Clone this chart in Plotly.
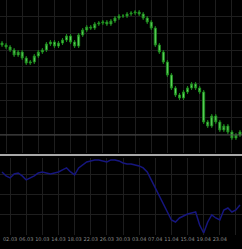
import plotly.graph_objects as go
from plotly.subplots import make_subplots

bars = list(range(60))
opens = [157,155,153,150,145,148,142,137,138,144,148,150,156,158,154,157,160,164,158,154,
         165,170,173,172,176,177,178,176,179,182,184,184,186,187,188,186,182,178,172,155,
         148,138,125,112,105,102,108,112,116,112,108,78,74,84,78,70,74,68,62,65]
closes = [155,153,150,145,148,142,137,138,144,148,150,156,158,154,157,160,164,158,154,165,
          170,173,172,176,177,178,176,179,182,184,184,186,187,188,186,182,178,172,155,148,
          138,125,112,105,102,108,112,116,112,108,78,74,84,78,70,74,68,62,65,68]
highs = [159,157,155,152,150,150,144,140,146,150,152,158,160,160,159,162,166,166,160,167,
         172,175,175,178,179,180,180,181,184,186,186,188,189,190,190,188,184,180,174,157,
         150,140,127,114,107,110,114,118,118,114,110,80,86,86,80,76,76,70,67,70]
lows = [153,151,148,143,143,140,135,135,136,142,146,148,154,152,152,155,158,156,152,152,
        163,168,170,170,174,175,174,174,177,180,182,182,184,185,184,180,176,170,153,146,
        136,123,110,103,100,100,106,110,110,106,76,72,72,76,68,68,66,60,60,63]
indicator = [63,59,57,61,62,59,55,57,59,62,63,62,61,62,63,65,67,63,60,67,
             70,73,74,75,75,74,73,75,75,74,72,71,71,70,69,67,63,55,47,39,
             30,23,15,13,17,19,21,22,23,10,2,13,20,17,15,25,27,23,25,30]
tick_pos = [2, 6, 10, 14, 18, 22, 26, 30, 34, 38, 42, 46, 50, 54, 58]
tick_labels = ["02.03", "06.03", "10.03", "14.03", "18.03", "22.03", "26.03", "30.03",
               "03.04", "07.04", "11.04", "15.04", "19.04", "23.04", "27.04"]

fig = make_subplots(rows=2, cols=1, shared_xaxes=True, vertical_spacing=0.0,
                    row_heights=[0.66, 0.34])

fig.add_trace(go.Candlestick(
    x=bars, open=opens, high=highs, low=lows, close=closes,
    increasing=dict(line=dict(color="#1e8c1e", width=1), fillcolor="#66d966"),
    decreasing=dict(line=dict(color="#1e8c1e", width=1), fillcolor="#66d966"),
    whiskerwidth=0, showlegend=False, hoverinfo="skip"), row=1, col=1)

fig.add_trace(go.Scatter(x=bars, y=indicator, mode="lines",
                         line=dict(color="#16167e", width=1.5),
                         showlegend=False, hoverinfo="skip"), row=2, col=1)

grid = "#1e1e1e"
fig.update_layout(
    width=242, height=249,
    margin=dict(l=0, r=0, t=0, b=14, autoexpand=False),
    paper_bgcolor="black", plot_bgcolor="black",
    xaxis=dict(range=[-0.5, 59.5], showgrid=True, gridcolor=grid, dtick=4, tick0=1,
               showticklabels=False, zeroline=False, rangeslider=dict(visible=False),
               domain=[0, 1], automargin=False),
    xaxis2=dict(range=[-0.5, 59.5], showgrid=True, gridcolor=grid, tickmode="array",
                tickvals=tick_pos, ticktext=tick_labels, showticklabels=True,
                tickangle=0, automargin=False,
                tickfont=dict(size=5, color="#8a8a8a", family="DejaVu Sans"),
                ticks="", zeroline=False, rangeslider=dict(visible=False)),
    yaxis=dict(range=[47, 200], domain=[0.349, 1.0], showgrid=True, gridcolor=grid,
               dtick=17, tick0=48, showticklabels=False, zeroline=False, automargin=False),
    yaxis2=dict(range=[0, 77], domain=[0.0, 0.328], showgrid=True, gridcolor=grid,
                dtick=20, showticklabels=False, zeroline=False, automargin=False),
)

# panel separator
fig.add_shape(type="line", xref="paper", yref="paper", x0=0, x1=1, y0=0.340, y1=0.340,
              line=dict(color="#a8a8a8", width=2))
# level line in price panel
fig.add_shape(type="line", xref="paper", yref="y", x0=0, x1=1, y0=65, y1=65,
              line=dict(color="#4a4a4a", width=1))

fig.write_html("out.html", config={"displayModeBar": False, "staticPlot": True},
               post_script="document.body.style.margin='0px';document.body.style.background='black';")
